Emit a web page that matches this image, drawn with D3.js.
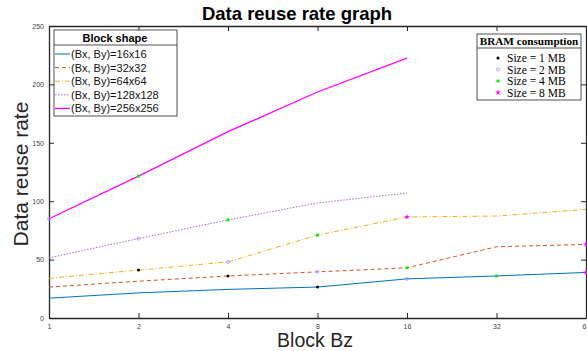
<!DOCTYPE html>
<html>
<head>
<meta charset="utf-8">
<script src="https://d3js.org/d3.v7.min.js"></script>
<style>
  body { margin: 0; background: #fff; }
  text { font-family: "Liberation Sans", Arial, sans-serif; }
  .serif { font-family: "Liberation Serif", "Times New Roman", serif; }
</style>
</head>
<body>
<div id="chart"></div>
<script>
/// Chart data ///
var blockBz = [1, 2, 4, 8, 16, 32, 64];
var seriesNames = ["(Bx, By)=16x16", "(Bx, By)=32x32", "(Bx, By)=64x64", "(Bx, By)=128x128", "(Bx, By)=256x256"];
var reuse16 = [17, 21.5, 24.5, 26.5, 33.5, 36, 39];
var reuse32 = [26.5, 31.5, 36, 39.5, 43, 61, 63];
var reuse64 = [34, 41, 48, 71, 86.5, 87.3, 93];
var reuse128 = [51.5, 68, 84, 98.5, 107];
var reuse256 = [85, 121.5, 159.5, 193.5, 222.5];
var yTicks = [0, 50, 100, 150, 200, 250];
var sizeNames = ["Size = 1 MB", "Size = 2 MB", "Size = 4 MB", "Size = 8 MB"];
// BRAM markers: [series index, Bz index, size index]
var bramMarks = [
  [0, 3, 0], [0, 4, 1], [0, 5, 2], [0, 6, 3],
  [1, 2, 0], [1, 3, 1], [1, 4, 2], [1, 6, 3],
  [2, 1, 0], [2, 2, 1], [2, 3, 2], [2, 4, 3],
  [3, 1, 1], [3, 2, 2],
  [4, 0, 1], [4, 1, 2]
];

var allSeries = [reuse16, reuse32, reuse64, reuse128, reuse256];
var colors = ["#0072BD", "#D95319", "#EDB120", "#A86CC0", "#FF00FF"];
var dashes = [null, "4,3", "5,2,1,2", "1.5,1.5", null];
var sizeColors = ["#000000", "#9f8fff", "#00ee00", "#ff00ff"];

/// Layout ///
var svgWidth = 587, svgHeight = 351;
var margin = { top: 26, right: 1, bottom: 33, left: 49 };
var width = svgWidth - margin.left - margin.right;
var height = svgHeight - margin.top - margin.bottom;

var svg = d3.select("#chart").append("svg")
  .attr("width", svgWidth)
  .attr("height", svgHeight);

var g = svg.append("g").attr("transform", `translate(${margin.left}, ${margin.top})`);

var x = d3.scaleLog().base(2).domain([1, 64]).range([0, width]);
var y = d3.scaleLinear().domain([0, 250]).range([height, 0]);

var axisColor = "#262626";

// box axes, MATLAB style (ticks inward)
var axBottom = g.append("g").attr("transform", `translate(0, ${height})`)
  .call(d3.axisBottom(x).tickValues(blockBz).tickFormat(d3.format("d")).tickSizeInner(-5).tickSizeOuter(0).tickPadding(6));
var axLeft = g.append("g")
  .call(d3.axisLeft(y).tickValues(yTicks).tickSizeInner(-5).tickSizeOuter(0).tickPadding(5));
var axTop = g.append("g")
  .call(d3.axisTop(x).tickValues(blockBz).tickSizeInner(-5).tickSizeOuter(0).tickFormat(""));
var axRight = g.append("g").attr("transform", `translate(${width}, 0)`)
  .call(d3.axisRight(y).tickValues(yTicks).tickSizeInner(-5).tickSizeOuter(0).tickFormat(""));

[axBottom, axLeft, axTop, axRight].forEach(function (a) {
  a.select(".domain").attr("stroke", axisColor).attr("stroke-width", 1.3);
  a.selectAll(".tick line").attr("stroke", axisColor);
  a.selectAll(".tick text").attr("fill", "#444").attr("font-size", 7)
    .attr("font-family", "Liberation Sans, Arial, sans-serif");
});

/// Lines ///
var line = d3.line()
  .x(function (d, i) { return x(blockBz[i]); })
  .y(function (d) { return y(d); });

allSeries.forEach(function (s, k) {
  g.append("path")
    .datum(s)
    .attr("d", line)
    .attr("fill", "none")
    .attr("stroke", colors[k])
    .attr("stroke-width", k == 4 ? 1.3 : 1)
    .attr("stroke-dasharray", dashes[k]);
});

/// BRAM markers ///
function drawMarker(sel, cx, cy, k) {
  if (k == 0) {
    sel.append("circle").attr("cx", cx).attr("cy", cy).attr("r", 1.5).attr("fill", sizeColors[0]);
  } else if (k == 1) {
    sel.append("circle").attr("cx", cx).attr("cy", cy).attr("r", 1.5)
      .attr("fill", "none").attr("stroke", sizeColors[1]).attr("stroke-width", 0.8);
  } else if (k == 2) {
    sel.append("rect").attr("x", cx - 1.4).attr("y", cy - 1.4).attr("width", 2.8).attr("height", 2.8).attr("fill", sizeColors[2]);
  } else {
    sel.append("path").attr("d", d3.symbol(d3.symbolStar, 10)())
      .attr("transform", `translate(${cx},${cy})`).attr("fill", sizeColors[3]);
  }
}

bramMarks.forEach(function (m) {
  drawMarker(g, x(blockBz[m[1]]), y(allSeries[m[0]][m[1]]), m[2]);
});

/// Titles ///
svg.append("text").attr("x", 297).attr("y", 20).attr("text-anchor", "middle")
  .attr("font-size", 18.5).attr("font-weight", "bold").text("Data reuse rate graph");
svg.append("text").attr("x", 315).attr("y", 347).attr("text-anchor", "middle")
  .attr("font-size", 19.5).attr("fill", "#262626").text("Block Bz");
svg.append("text").attr("transform", "translate(28, 174) rotate(-90)").attr("text-anchor", "middle")
  .attr("font-size", 21).attr("fill", "#262626").text("Data reuse rate");

/// Legend: block shape ///
var lg = svg.append("g").attr("transform", "translate(54, 30)");
lg.append("rect").attr("width", 123).attr("height", 86).attr("fill", "#fff").attr("stroke", axisColor).attr("stroke-width", 0.8);
lg.append("line").attr("x1", 0).attr("x2", 123).attr("y1", 15).attr("y2", 15).attr("stroke", axisColor).attr("stroke-width", 0.8);
lg.append("text").attr("x", 61).attr("y", 12).attr("text-anchor", "middle")
  .attr("font-size", 11).attr("font-weight", "bold").text("Block shape");
seriesNames.forEach(function (name, k) {
  var yy = 24 + k * 13.6;
  lg.append("line").attr("x1", 1).attr("x2", 16).attr("y1", yy).attr("y2", yy)
    .attr("stroke", colors[k]).attr("stroke-width", k == 4 ? 1.3 : 1).attr("stroke-dasharray", dashes[k]);
  lg.append("text").attr("x", 17).attr("y", yy + 4).attr("font-size", 11).attr("fill", "#111").text(name);
});

/// Legend: BRAM consumption ///
var lb = svg.append("g").attr("transform", "translate(477, 34)");
lb.append("rect").attr("width", 104).attr("height", 66).attr("fill", "#fff").attr("stroke", axisColor).attr("stroke-width", 0.8);
lb.append("line").attr("x1", 0).attr("x2", 104).attr("y1", 14).attr("y2", 14).attr("stroke", axisColor).attr("stroke-width", 0.8);
lb.append("text").attr("class", "serif").attr("x", 52).attr("y", 11).attr("text-anchor", "middle")
  .attr("font-size", 11.2).attr("font-weight", "bold").text("BRAM consumption");
sizeNames.forEach(function (name, k) {
  var yy = 24 + k * 11.5;
  drawMarker(lb, 21, yy, k);
  lb.append("text").attr("class", "serif").attr("x", 30).attr("y", yy + 4)
    .attr("font-size", 11.5).text(name);
});
</script>
</body>
</html>
